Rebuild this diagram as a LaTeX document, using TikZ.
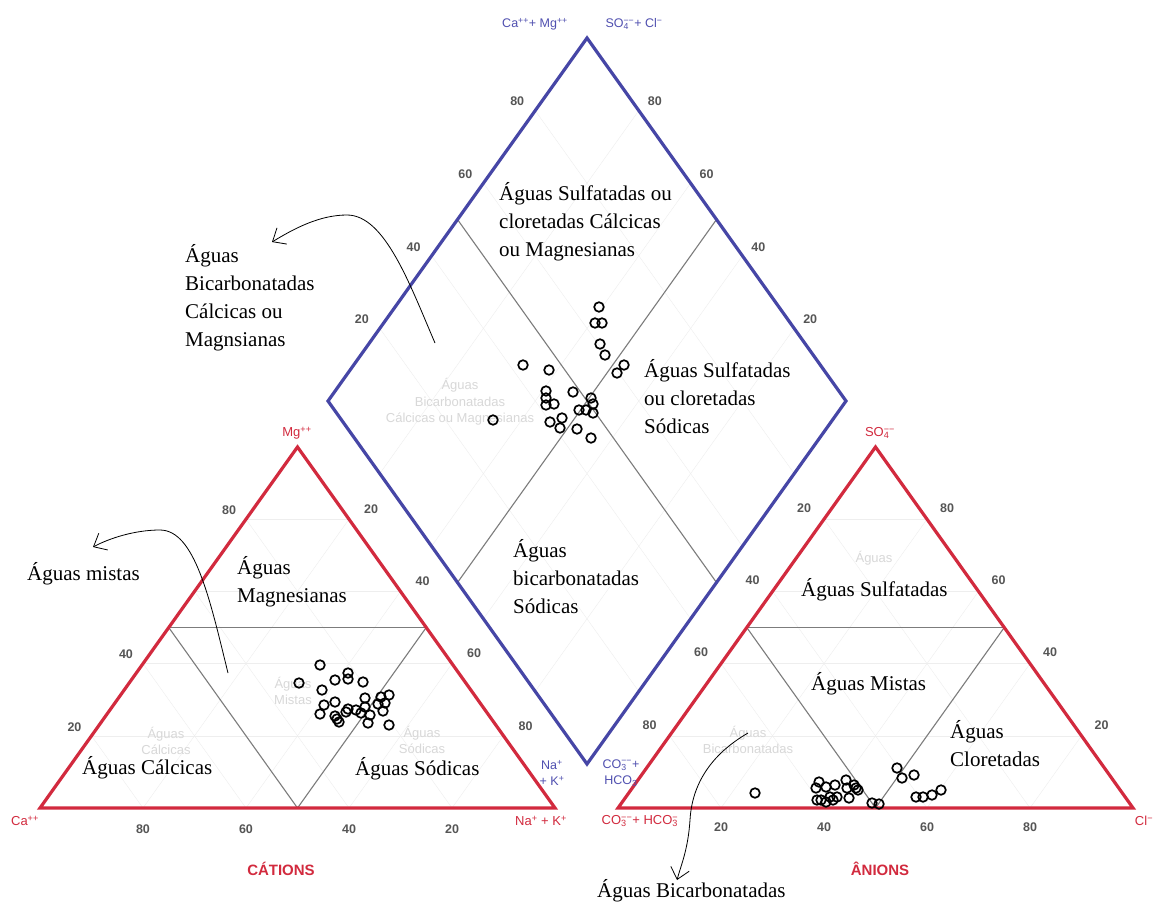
\documentclass[tikz,border=0pt]{standalone}
\usepackage{fontspec}
\setmainfont{Liberation Serif}
\setsansfont{Liberation Sans}
\usetikzlibrary{calc,arrows.meta}
\definecolor{piperred}{HTML}{D22A3E}
\definecolor{piperblue}{HTML}{4646A6}
\definecolor{ionblue}{HTML}{5050B0}
\definecolor{tickgray}{HTML}{555555}
\definecolor{zonegray}{HTML}{7C7C7C}
\definecolor{gridgray}{HTML}{EEEEEE}
\definecolor{fadegray}{HTML}{D8D8D8}
\newcommand{\ionsub}[2]{\rlap{\textsubscript{#1}}\textsuperscript{#2}}

\begin{document}
\begin{tikzpicture}[x=1pt,y=1pt]
\tikzstyle{every node}+=[inner sep=0pt]
\tikzstyle{ticklabel}=[font=\sffamily\bfseries\fontsize{12.5}{12.5}\selectfont,text=tickgray]
\tikzstyle{ionlabel}=[font=\sffamily\fontsize{13}{13}\selectfont,text=piperred]
\tikzstyle{iontop}=[font=\sffamily\fontsize{12.5}{16}\selectfont,text=ionblue,align=center]
\tikzstyle{titlelabel}=[font=\sffamily\bfseries\fontsize{15}{15}\selectfont,text=piperred]
\tikzstyle{zonetext}=[font=\fontsize{21}{28}\selectfont,align=left,anchor=north west]
\tikzstyle{fadedtext}=[font=\sffamily\fontsize{13}{16.5}\selectfont,text=fadegray,align=center]
\tikzstyle{datapt}=[black,line width=1.7pt]
\tikzstyle{handarrow}=[black,line width=0.8pt,-{Straight Barb[length=11pt,width=19pt]}]
\fill [white] (0,0) rectangle (1155,-913);
\useasboundingbox (0,0) rectangle (1155,-913);
\coordinate (ca) at (40,-808);
\coordinate (na) at (555,-808);
\coordinate (mg) at (297.5,-447);
\coordinate (hco) at (618,-808);
\coordinate (cl) at (1133,-808);
\coordinate (so) at (875.5,-447);
\coordinate (dbot) at (587,-764);
\coordinate (dleft) at (328,-401);
\coordinate (dright) at (846,-401);
\coordinate (dtop) at (587,-38);
% faint grid
\foreach \f in {0.2,0.4,0.6,0.8} {
\draw [gridgray] ($(ca)!\f!(mg)$) -- ($(na)!\f!(mg)$);
\draw [gridgray] ($(ca)!\f!(na)$) -- ($(mg)!\f!(na)$);
\draw [gridgray] ($(ca)!\f!(na)$) -- ($(ca)!\f!(mg)$);
\draw [gridgray] ($(hco)!\f!(so)$) -- ($(cl)!\f!(so)$);
\draw [gridgray] ($(hco)!\f!(cl)$) -- ($(so)!\f!(cl)$);
\draw [gridgray] ($(hco)!\f!(cl)$) -- ($(hco)!\f!(so)$);
\draw [gridgray] ($(dbot)!\f!(dright)$) -- ($(dleft)!\f!(dtop)$);
\draw [gridgray] ($(dbot)!\f!(dleft)$) -- ($(dright)!\f!(dtop)$);
}
\node [fadedtext] (fd1) at (460,-402) {Águas\\Bicarbonatadas\\Cálcicas ou Magnesianas};
\node [fadedtext] (fl1) at (166,-741) {Águas\\Cálcicas};
\node [fadedtext] (fl2) at (422,-740) {Águas\\Sódicas};
\node [fadedtext] (fl3) at (293,-691) {Águas\\Mistas};
\node [fadedtext] (fr1) at (748,-740) {Águas\\Bicarbonatadas};
\node [fadedtext] (fr2) at (874,-558) {Águas};
% zone limits
\draw [zonegray, line width=1.1pt] ($(ca)!0.5!(mg)$) -- ($(na)!0.5!(mg)$);
\draw [zonegray, line width=1.1pt] ($(ca)!0.5!(mg)$) -- ($(ca)!0.5!(na)$) -- ($(na)!0.5!(mg)$);
\draw [zonegray, line width=1.1pt] ($(hco)!0.5!(so)$) -- ($(cl)!0.5!(so)$);
\draw [zonegray, line width=1.1pt] ($(hco)!0.5!(so)$) -- ($(hco)!0.5!(cl)$) -- ($(cl)!0.5!(so)$);
\draw [zonegray, line width=1.1pt] ($(dbot)!0.5!(dright)$) -- ($(dleft)!0.5!(dtop)$);
\draw [zonegray, line width=1.1pt] ($(dbot)!0.5!(dleft)$) -- ($(dright)!0.5!(dtop)$);
% outlines
\draw [piperred, line width=3.2pt] (ca) -- (na) -- (mg) -- cycle;
\draw [piperred, line width=3.2pt] (hco) -- (cl) -- (so) -- cycle;
\draw [piperblue, line width=3.2pt] (dbot) -- (dright) -- (dtop) -- (dleft) -- cycle;
% scales
\node [ticklabel] (cl80) at ($(ca)!0.8!(mg)+(-17,9)$) {80};
\node [ticklabel] (cl40) at ($(ca)!0.4!(mg)+(-17,9)$) {40};
\node [ticklabel] (cl20) at ($(ca)!0.2!(mg)+(-17,9)$) {20};
\node [ticklabel] (cr20) at ($(mg)!0.2!(na)+(22,10)$) {20};
\node [ticklabel] (cr40) at ($(mg)!0.4!(na)+(22,10)$) {40};
\node [ticklabel] (cr60) at ($(mg)!0.6!(na)+(22,10)$) {60};
\node [ticklabel] (cr80) at ($(mg)!0.8!(na)+(22,10)$) {80};
\node [ticklabel] (cb80) at ($(ca)!0.2!(na)+(0,-21)$) {80};
\node [ticklabel] (cb60) at ($(ca)!0.4!(na)+(0,-21)$) {60};
\node [ticklabel] (cb40) at ($(ca)!0.6!(na)+(0,-21)$) {40};
\node [ticklabel] (cb20) at ($(ca)!0.8!(na)+(0,-21)$) {20};
\node [ticklabel] (al20) at ($(so)!0.2!(hco)+(-20,11)$) {20};
\node [ticklabel] (al40) at ($(so)!0.4!(hco)+(-20,11)$) {40};
\node [ticklabel] (al60) at ($(so)!0.6!(hco)+(-20,11)$) {60};
\node [ticklabel] (al80) at ($(so)!0.8!(hco)+(-20,11)$) {80};
\node [ticklabel] (ar80) at ($(so)!0.2!(cl)+(20,11)$) {80};
\node [ticklabel] (ar60) at ($(so)!0.4!(cl)+(20,11)$) {60};
\node [ticklabel] (ar40) at ($(so)!0.6!(cl)+(20,11)$) {40};
\node [ticklabel] (ar20) at ($(so)!0.8!(cl)+(20,11)$) {20};
\node [ticklabel] (ab20) at ($(hco)!0.2!(cl)+(0,-19)$) {20};
\node [ticklabel] (ab40) at ($(hco)!0.4!(cl)+(0,-19)$) {40};
\node [ticklabel] (ab60) at ($(hco)!0.6!(cl)+(0,-19)$) {60};
\node [ticklabel] (ab80) at ($(hco)!0.8!(cl)+(0,-19)$) {80};
\node [ticklabel] (dl20) at ($(dleft)!0.2!(dtop)+(-18,9)$) {20};
\node [ticklabel] (dl40) at ($(dleft)!0.4!(dtop)+(-18,9)$) {40};
\node [ticklabel] (dl60) at ($(dleft)!0.6!(dtop)+(-18,9)$) {60};
\node [ticklabel] (dl80) at ($(dleft)!0.8!(dtop)+(-18,9)$) {80};
\node [ticklabel] (dr20) at ($(dright)!0.2!(dtop)+(16,9)$) {20};
\node [ticklabel] (dr40) at ($(dright)!0.4!(dtop)+(16,9)$) {40};
\node [ticklabel] (dr60) at ($(dright)!0.6!(dtop)+(16,9)$) {60};
\node [ticklabel] (dr80) at ($(dright)!0.8!(dtop)+(16,9)$) {80};
% ions
\node [ionlabel] (lmg) at (297,-433) {Mg\textsuperscript{++}};
\node [ionlabel] (lca) at (25,-821) {Ca\textsuperscript{++}};
\node [ionlabel] (lna) at (541,-821) {Na\textsuperscript{+} + K\textsuperscript{+}};
\node [ionlabel] (rso) at (880,-433) {SO\ionsub{4}{−−}};
\node [ionlabel] (rco) at (640,-821) {CO\ionsub{3}{−−}+ HCO\ionsub{3}{−}};
\node [ionlabel] (rcl) at (1144,-821) {Cl\textsuperscript{−}};
\node [iontop] (dca) at (535,-24) {Ca\textsuperscript{++}+ Mg\textsuperscript{++}};
\node [iontop] (dso) at (634,-24) {SO\ionsub{4}{−−}+ Cl\textsuperscript{−}};
\node [iontop] (dna) at (552,-773) {Na\textsuperscript{+}\\+ K\textsuperscript{+}};
\node [iontop] (dco) at (621,-773) {CO\ionsub{3}{−−}+\\HCO\textsubscript{3}};
\node [titlelabel] (cat) at (281,-869) {CÁTIONS};
\node [titlelabel] (ani) at (880,-869) {ÂNIONS};
% samples
\foreach \x/\y in {599/307,595/323,602/323,600/344,605/355,624/365,617/373,523/365,549/370,
546/391,546/398,554/404,546/405,562/418,550/422,560/428,573/392,579/410,586/410,591/398,
593/404,593/413,577/429,591/438,493/420}
\draw [datapt] (\x,-\y) circle (4.8);
\foreach \x/\y in {320/665,299/683,335/680,348/673,348/679,363/682,322/690,324/705,335/702,
348/709,365/698,381/697,389/695,385/703,320/714,335/716,339/722,346/712,356/710,361/713,
365/707,370/715,378/704,383/711,337/719,368/723,389/725}
\draw [datapt] (\x,-\y) circle (4.8);
\foreach \x/\y in {755/793,819/782,826/787,835/785,846/780,847/788,854/785,858/790,816/788,
821/800,826/802,833/800,830/797,837/797,849/798,817/800,856/788,872/803,879/804,897/768,
902/778,914/775,916/797,923/797,932/795,941/790}
\draw [datapt] (\x,-\y) circle (4.8);
% water types
\node [zonetext] (zsc) at (499,-182) {Águas Sulfatadas ou\\cloretadas Cálcicas\\ou Magnesianas};
\node [zonetext] (zss) at (644,-359) {Águas Sulfatadas\\ou cloretadas\\Sódicas};
\node [zonetext] (zbs) at (513,-539) {Águas\\bicarbonatadas\\Sódicas};
\node [zonetext] (zbc) at (185,-244) {Águas\\Bicarbonatadas\\Cálcicas ou\\Magnsianas};
\node [zonetext] (zmg) at (237,-556) {Águas\\Magnesianas};
\node [zonetext] (zmx) at (27,-562) {Águas mistas};
\node [zonetext] (zca) at (82,-756) {Águas Cálcicas};
\node [zonetext] (zna) at (355,-757) {Águas Sódicas};
\node [zonetext] (zsu) at (801,-578) {Águas Sulfatadas};
\node [zonetext] (zmi) at (811,-672) {Águas Mistas};
\node [zonetext] (zcl) at (950,-720) {Águas\\Cloretadas};
\node [zonetext] (zbi) at (597,-879) {Águas Bicarbonatadas};
% pointers
\coordinate (a1s) at (435,-343);
\coordinate (a1e) at (272,-242);
\coordinate (a2s) at (228,-673);
\coordinate (a2e) at (93,-547);
\coordinate (a3s) at (748,-733);
\coordinate (a3e) at (677,-880);
\draw [handarrow] (a1s) .. controls (410,-285) and (385,-215) .. (347,-215) .. controls (320,-215) and (295,-228) .. (a1e);
\draw [handarrow] (a2s) .. controls (210,-600) and (195,-530) .. (160,-530) .. controls (135,-530) and (110,-538) .. (a2e);
\draw [handarrow] (a3s) .. controls (710,-755) and (692,-785) .. (690,-820) .. controls (688,-850) and (681,-865) .. (a3e);
\end{tikzpicture}
\end{document}
